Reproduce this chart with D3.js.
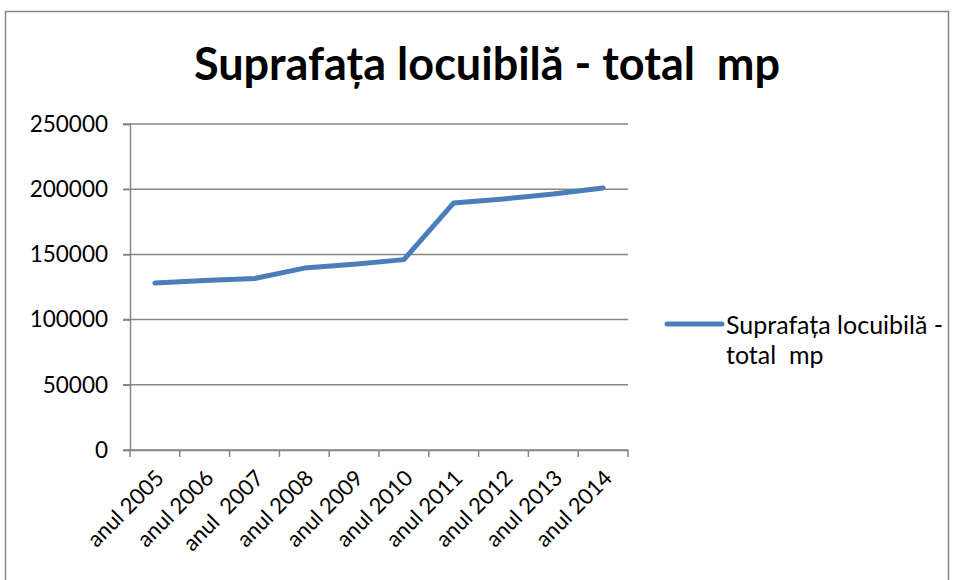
<!DOCTYPE html>
<html>
<head>
<meta charset="utf-8">
<script src="https://cdn.jsdelivr.net/npm/d3@7"></script>
<style>
  body { margin: 0; background: #fff; }
  text { font-family: Lato, "Open Sans", sans-serif; }
</style>
</head>
<body>
<div id="chart"></div>
<script>
const years = ["anul 2005", "anul 2006", "anul  2007", "anul 2008", "anul 2009",
  "anul 2010", "anul 2011", "anul 2012", "anul 2013", "anul 2014"];
const values = [128000, 130000, 131500, 139500, 142500, 146000, 189500, 192500, 196300, 201000];
const yTicks = [0, 50000, 100000, 150000, 200000, 250000];
const seriesName = ["Suprafața locuibilă -", "total  mp"];
const titleText = "Suprafața locuibilă - total  mp";

const W = 955, H = 580;
const margin = { top: 124, left: 130, right: 327, bottom: 130 };
const width = W - margin.left - margin.right;
const height = H - margin.top - margin.bottom;

const svg = d3.select("#chart").append("svg")
  .attr("width", W)
  .attr("height", H);

// outer frame
svg.append("rect")
  .attr("x", 5.5).attr("y", 11.5)
  .attr("width", 943).attr("height", 600)
  .attr("fill", "none")
  .attr("stroke", "#868686")
  .attr("stroke-width", 1.5);

svg.append("text")
  .attr("x", 487)
  .attr("y", 80)
  .attr("text-anchor", "middle")
  .style("font-size", "45px")
  .style("font-weight", "bold")
  .style("white-space", "pre")
  .text(titleText);

const g = svg.append("g")
  .attr("transform", `translate(${margin.left}, ${margin.top})`);

const x = d3.scaleBand().domain(years).range([0, width]);
const y = d3.scaleLinear().domain([0, 250000]).range([height, 0]);

// gridlines
g.selectAll(".grid")
  .data(yTicks)
  .join("line")
  .attr("class", "grid")
  .attr("x1", -7).attr("x2", width)
  .attr("y1", d => y(d)).attr("y2", d => y(d))
  .attr("stroke", "#868686")
  .attr("stroke-width", 1.5);

// y axis
const yAxis = g.append("g")
  .call(d3.axisLeft(y).tickValues(yTicks).tickFormat(d => d).tickSize(7));
yAxis.select(".domain").attr("stroke", "#868686").attr("stroke-width", 1.5);
yAxis.selectAll(".tick line").attr("stroke", "#868686").attr("stroke-width", 1.5);
yAxis.selectAll("text")
  .attr("x", -22)
  .style("font-size", "22.5px")
  .style("font-family", "Lato, sans-serif")
  .attr("fill", "#000");

// x axis
const xAxis = g.append("g")
  .attr("transform", `translate(0, ${height})`)
  .call(d3.axisBottom(x).tickSize(0));
xAxis.select(".domain").attr("stroke", "#868686").attr("stroke-width", 1.5);
xAxis.selectAll(".tick line").remove();
const xt = d3.range(years.length + 1).map(i => i * x.step());
xAxis.selectAll(".xtick")
  .data(xt)
  .join("line")
  .attr("class", "xtick")
  .attr("x1", d => d).attr("x2", d => d)
  .attr("y1", 0).attr("y2", 7)
  .attr("stroke", "#868686")
  .attr("stroke-width", 1.5);
xAxis.selectAll(".tick text")
  .attr("transform", "translate(5, 24) rotate(-45)")
  .attr("y", 0).attr("dy", "0.35em").attr("x", 0)
  .style("text-anchor", "end")
  .style("font-size", "22px")
  .style("font-family", "Lato, sans-serif")
  .style("white-space", "pre")
  .attr("fill", "#000");

// line
const line = d3.line()
  .x((d, i) => x(years[i]) + x.bandwidth() / 2)
  .y(d => y(d));

g.append("path")
  .datum(values)
  .attr("d", line)
  .attr("fill", "none")
  .attr("stroke", "#4a7ebb")
  .attr("stroke-width", 5)
  .attr("stroke-linecap", "round")
  .attr("stroke-linejoin", "round");

// legend
const leg = svg.append("g").attr("transform", "translate(667, 324)");
leg.append("line")
  .attr("x1", 0).attr("x2", 55)
  .attr("stroke", "#4a7ebb")
  .attr("stroke-width", 5)
  .attr("stroke-linecap", "round");
leg.selectAll("text")
  .data(seriesName)
  .join("text")
  .attr("x", 59)
  .attr("y", (d, i) => 10 + i * 30)
  .style("font-size", "25px")
  .style("white-space", "pre")
  .text(d => d);
</script>
</body>
</html>
